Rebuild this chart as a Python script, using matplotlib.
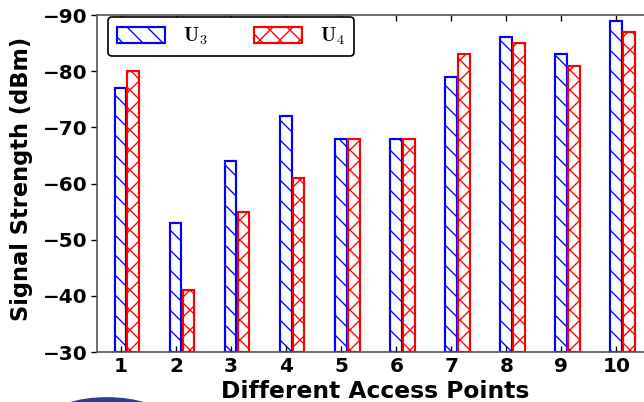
#!/usr/bin/env python3
"""Signal strength of two users at ten access points."""

from __future__ import annotations

import numpy as np
import matplotlib as mpl
import matplotlib.pyplot as plt
from matplotlib.patches import Ellipse


mpl.rcParams.update({
    "font.family": "DejaVu Sans",
    "font.weight": "bold",
    "mathtext.fontset": "cm",
    "hatch.linewidth": 0.8,
})

access_points = np.arange(1, 11)
u3_dbm = [-77, -53, -64, -72, -68, -68, -79, -86, -83, -89]
u4_dbm = [-80, -41, -55, -61, -68, -68, -83, -85, -81, -87]
floor_dbm = -30
y_ticks = [-30, -40, -50, -60, -70, -80, -90]

DPI = 120


def main() -> None:
    fig = plt.figure(figsize=(644 / DPI, 402 / DPI), dpi=DPI)
    # axes run past the right edge of the canvas
    ax = fig.add_axes([97 / 644, 50 / 402, 569 / 644, 337 / 402])

    width = 0.215
    u3_h = np.array(u3_dbm) - floor_dbm
    u4_h = np.array(u4_dbm) - floor_dbm
    ax.bar(access_points - 0.01, u3_h, width, bottom=floor_dbm,
           facecolor="white", edgecolor="#0000ff", hatch="\\\\",
           linewidth=1.3, label=r"$\mathbf{U}_3$")
    ax.bar(access_points + 0.225, u4_h, width, bottom=floor_dbm,
           facecolor="white", edgecolor="#ff0000", hatch="xx",
           linewidth=1.3, label=r"$\mathbf{U}_4$")

    ax.set_xlim(0.564, 10.9)
    ax.set_ylim(-30, -90)
    ax.set_xticks(access_points)
    ax.set_yticks(y_ticks)
    ax.tick_params(axis="x", direction="in", top=True, length=3.5,
                   labelsize=12, pad=3)
    ax.tick_params(axis="y", direction="out", length=3.5, labelsize=12, pad=2)
    for lab in ax.get_xticklabels() + ax.get_yticklabels():
        lab.set_fontweight("bold")

    for side in ("left", "top", "bottom"):
        ax.spines[side].set_color("#555555")
        ax.spines[side].set_linewidth(1.0)

    ax.set_xlabel("Different Access Points", fontsize=14, fontweight="bold")
    ax.set_ylabel("Signal Strength (dBm)", fontsize=13.5, fontweight="bold")
    ax.xaxis.set_label_coords(0.489, -0.082)
    ax.yaxis.set_label_coords(-0.112, 0.513)

    leg = ax.legend(loc="upper left", bbox_to_anchor=(0.0193, 0.994),
                    borderaxespad=0, ncol=2, fontsize=12, handlelength=2.4,
                    handleheight=0.8, handletextpad=0.9, columnspacing=2.3,
                    borderpad=0.45, fancybox=True, framealpha=1)
    leg.get_frame().set_edgecolor("black")
    leg.get_frame().set_linewidth(1.0)

    fig.add_artist(Ellipse((107 / 644, -16 / 402), 112 / 644, 40 / 402,
                           transform=fig.transFigure, color="#2e3e8c",
                           clip_on=False))

    fig.savefig("out.png", dpi=DPI)


if __name__ == "__main__":
    main()
